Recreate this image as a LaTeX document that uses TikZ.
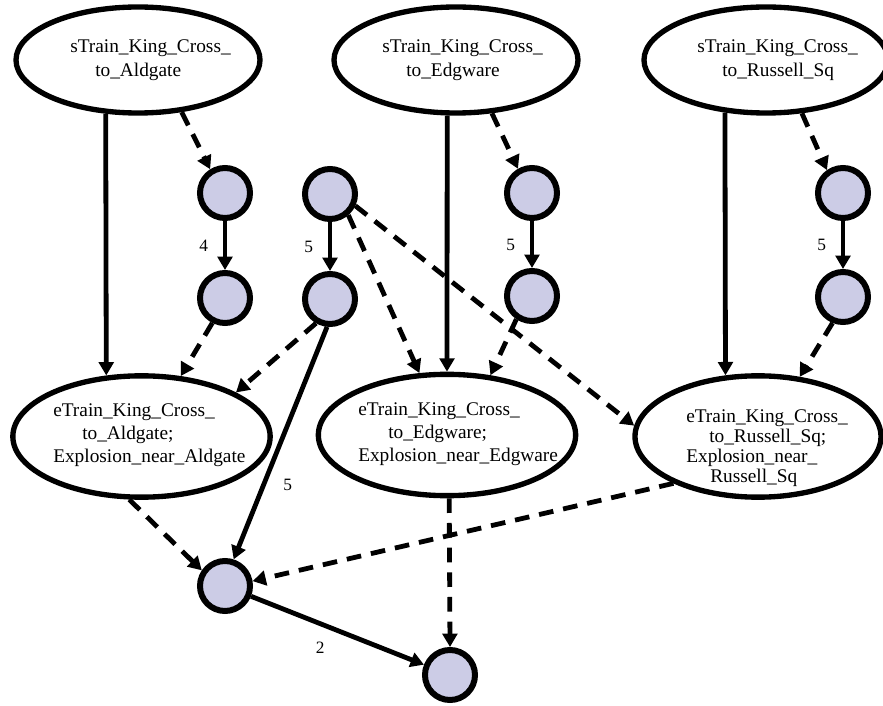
\documentclass[tikz,border=0pt]{standalone}
\usepackage{fontspec}
\setmainfont{Liberation Serif}
\usetikzlibrary{arrows.meta,shapes.geometric}
\definecolor{dotfill}{RGB}{204,204,230}
\tikzset{
  ev/.style={draw,ellipse,line width=4pt,inner sep=0pt,minimum width=183pt,minimum height=79.5pt},
  evb/.style={ev,minimum width=193pt,minimum height=91pt},
  evtxt/.style={anchor=west,align=left,inner sep=0pt,font=\fontsize{14.5}{18}\selectfont},
  dot/.style={draw,circle,fill=dotfill,line width=4.5pt,minimum size=37.5pt,inner sep=0pt},
  link/.style={-{Triangle[length=10pt,width=11pt]},line width=3.6pt},
  dlink/.style={link,dash pattern=on 11pt off 7.5pt},
  wt/.style={font=\fontsize{13}{15}\selectfont,inner sep=0pt},
}
\newcommand{\ind}[1]{\hspace*{#1}}
\begin{document}
\begin{tikzpicture}[x=0.75pt,y=-0.75pt]
  \useasboundingbox (0,0) rectangle (883,706);
  % start events
  \node[ev](s1) at (138,60) {};
  \node[ev](s2) at (456,60) {};
  \node[ev](s3) at (766,60) {};
  \node[evtxt](s1t) at (70,60) {sTrain\_King\_Cross\_\\\ind{18.75pt}to\_Aldgate};
  \node[evtxt](s2t) at (382,60) {sTrain\_King\_Cross\_\\\ind{18pt}to\_Edgware};
  \node[evtxt](s3t) at (697,60) {sTrain\_King\_Cross\_\\\ind{18.75pt}to\_Russell\_Sq};
  % end events
  \node[evb](e1) at (141.5,436.5) {};
  \node[evb](e2) at (447,435) {};
  \node[evb,minimum width=184.5pt](e3) at (758,436.5) {};
  \node[evtxt,font=\fontsize{14.5}{17.25}\selectfont](e1t) at (53,435)
    {eTrain\_King\_Cross\_\\\ind{21.75pt}to\_Aldgate;\\Explosion\_near\_Aldgate};
  \node[evtxt,font=\fontsize{14.5}{17.25}\selectfont](e2t) at (358,434)
    {eTrain\_King\_Cross\_\\\ind{22.5pt}to\_Edgware;\\Explosion\_near\_Edgware};
  \node[evtxt,font=\fontsize{14.5}{15}\selectfont](e3t) at (686,448)
    {eTrain\_King\_Cross\_\\\ind{17.25pt}to\_Russell\_Sq;\\Explosion\_near\_\\\ind{18pt}Russell\_Sq};
  % delay nodes
  \node[dot](c1a) at (225,193) {};
  \node[dot](c1b) at (225,298) {};
  \node[dot](h1) at (330,194) {};
  \node[dot](h2) at (330,299) {};
  \node[dot](c2a) at (532,193) {};
  \node[dot](c2b) at (532,296) {};
  \node[dot](c3a) at (843,193) {};
  \node[dot](c3b) at (843,297) {};
  \node[dot](b1) at (225,586) {};
  \node[dot](b2) at (450,675) {};
  % solid edges
  \draw[link](s1.-121.1)--(e1.120.6);
  \draw[link](s2.-99.7)--(e2.north);
  \draw[link](s3.-128.6)--(e3.118.7);
  \draw[link](c1a)--node[wt,left=11pt]{4}(c1b);
  \draw[link](h1)--node[wt,left=11pt]{5}(h2);
  \draw[link](c2a)--node[wt,left=11pt]{5}(c2b);
  \draw[link](c3a)--node[wt,left=11pt]{5}(c3b);
  \draw[link](h2.-96)--node[wt,pos=0.68,right=13pt]{5}(b1.72);
  \draw[link](b1)--node[wt,pos=0.4,below=12pt]{2}(b2);
  % dashed edges
  \draw[dlink](s1.-50)--(c1a.122);
  \draw[dlink](s2.-56.8)--(c2a.120);
  \draw[dlink](s3.-56.8)--(c3a.125);
  \draw[dlink](c1b.-117)--(e1.57.5);
  \draw[dlink](h2.-120)--(e1.25);
  \draw[dlink](h1.-49)--(e2.114);
  \draw[dlink](h1.-25)--(e3.175.8);
  \draw[dlink](c2b.-124.6)--(e2.54.7);
  \draw[dlink](c3b.-112.7)--(e3.55.1);
  \draw[dlink](e1.-101)--(b1.146);
  \draw[dlink](e3.-151.1)--(b1.10);
  \draw[dlink](e2.-88.5)--(b2.north);
\end{tikzpicture}
\end{document}
